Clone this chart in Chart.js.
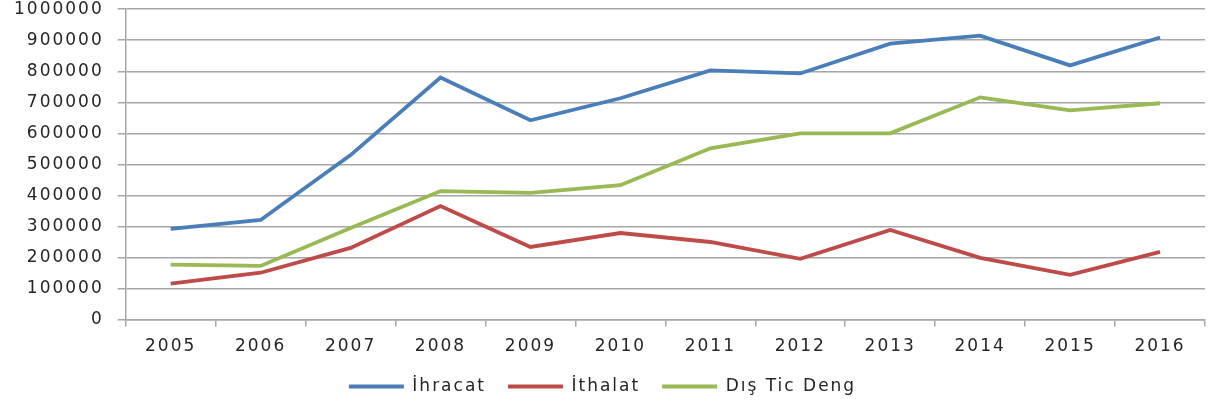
<!DOCTYPE html>
<html>
<head>
<meta charset="utf-8">
<script src="https://cdn.jsdelivr.net/npm/chart.js@4"></script>
<style>
  html, body { margin: 0; padding: 0; background: #fff; overflow: hidden; }
  #wrap { width: 1209px; height: 406px; overflow: hidden; }
  #myChart { display: block; margin-top: -15px; }
</style>
</head>
<body>
<div id="wrap"><canvas id="myChart" width="1209" height="431"></canvas></div>
<script>
const years = ['2005','2006','2007','2008','2009','2010','2011','2012','2013','2014','2015','2016'];
const ihracat = [292000, 321000, 530000, 780000, 642000, 713000, 803000, 793000, 889000, 915000, 819000, 909000];
const ithalat = [116000, 151000, 231000, 366000, 234000, 279000, 250000, 196000, 289000, 199000, 144000, 218000];
const disTicDeng = [177000, 173000, 295000, 414000, 408000, 433000, 552000, 600000, 600000, 716000, 674000, 697000];

// the reference text is drawn wide, so space the letters out a bit
const spacing = {
  id: 'spacing',
  beforeInit(chart) { chart.ctx.letterSpacing = '2px'; },
  beforeUpdate(chart) { chart.ctx.letterSpacing = '2px'; },
  beforeDraw(chart) { chart.ctx.letterSpacing = '2px'; }
};

// legend padding also widens the gap above it, pull it back up closer to the axis
const legendUp = {
  id: 'legendUp',
  afterLayout(chart) {
    chart.legend.top -= 11;
    chart.legend.bottom -= 11;
  }
};

Chart.defaults.font.family = 'DejaVu Sans';
Chart.defaults.font.size = 17;
Chart.defaults.color = '#262626';

let ctx = document.getElementById('myChart').getContext('2d');
let chart = new Chart(ctx, {
  type: 'line',
  data: {
    labels: years,
    datasets: [{
      label: 'İhracat',
      data: ihracat,
      borderColor: '#4A7EBB',
      backgroundColor: '#4A7EBB'
    }, {
      label: 'İthalat',
      data: ithalat,
      borderColor: '#BE4B48',
      backgroundColor: '#BE4B48'
    }, {
      label: 'Dış Tic Deng',
      data: disTicDeng,
      borderColor: '#98B954',
      backgroundColor: '#98B954'
    }]
  },
  options: {
    responsive: false,
    animation: false,
    layout: { padding: { left: 0, right: 4, top: 0, bottom: 0 } },
    elements: {
      line: { borderWidth: 3.8, tension: 0 },
      point: { radius: 0 }
    },
    scales: {
      x: {
        offset: true,
        grid: { offset: true, drawOnChartArea: false, drawTicks: true, tickLength: 7, color: '#A6A6A6', lineWidth: 1.5 },
        border: { color: '#A6A6A6', width: 1.5 },
        ticks: { padding: 10, maxRotation: 0 }
      },
      y: {
        min: 0,
        max: 1000000,
        ticks: { stepSize: 100000, padding: 14, callback: v => String(v) },
        grid: { color: '#A6A6A6', lineWidth: 1.5, tickLength: 8 },
        border: { color: '#A6A6A6', width: 1.5 }
      }
    },
    plugins: {
      legend: {
        position: 'bottom',
        labels: {
          boxWidth: 55,
          boxHeight: 4,
          padding: 22,
          generateLabels(chart) {
            return Chart.defaults.plugins.legend.labels.generateLabels(chart).map(l => {
              l.lineWidth = 0;
              return l;
            });
          }
        }
      },
      tooltip: { enabled: false }
    }
  },
  plugins: [spacing, legendUp]
});
</script>
</body>
</html>
